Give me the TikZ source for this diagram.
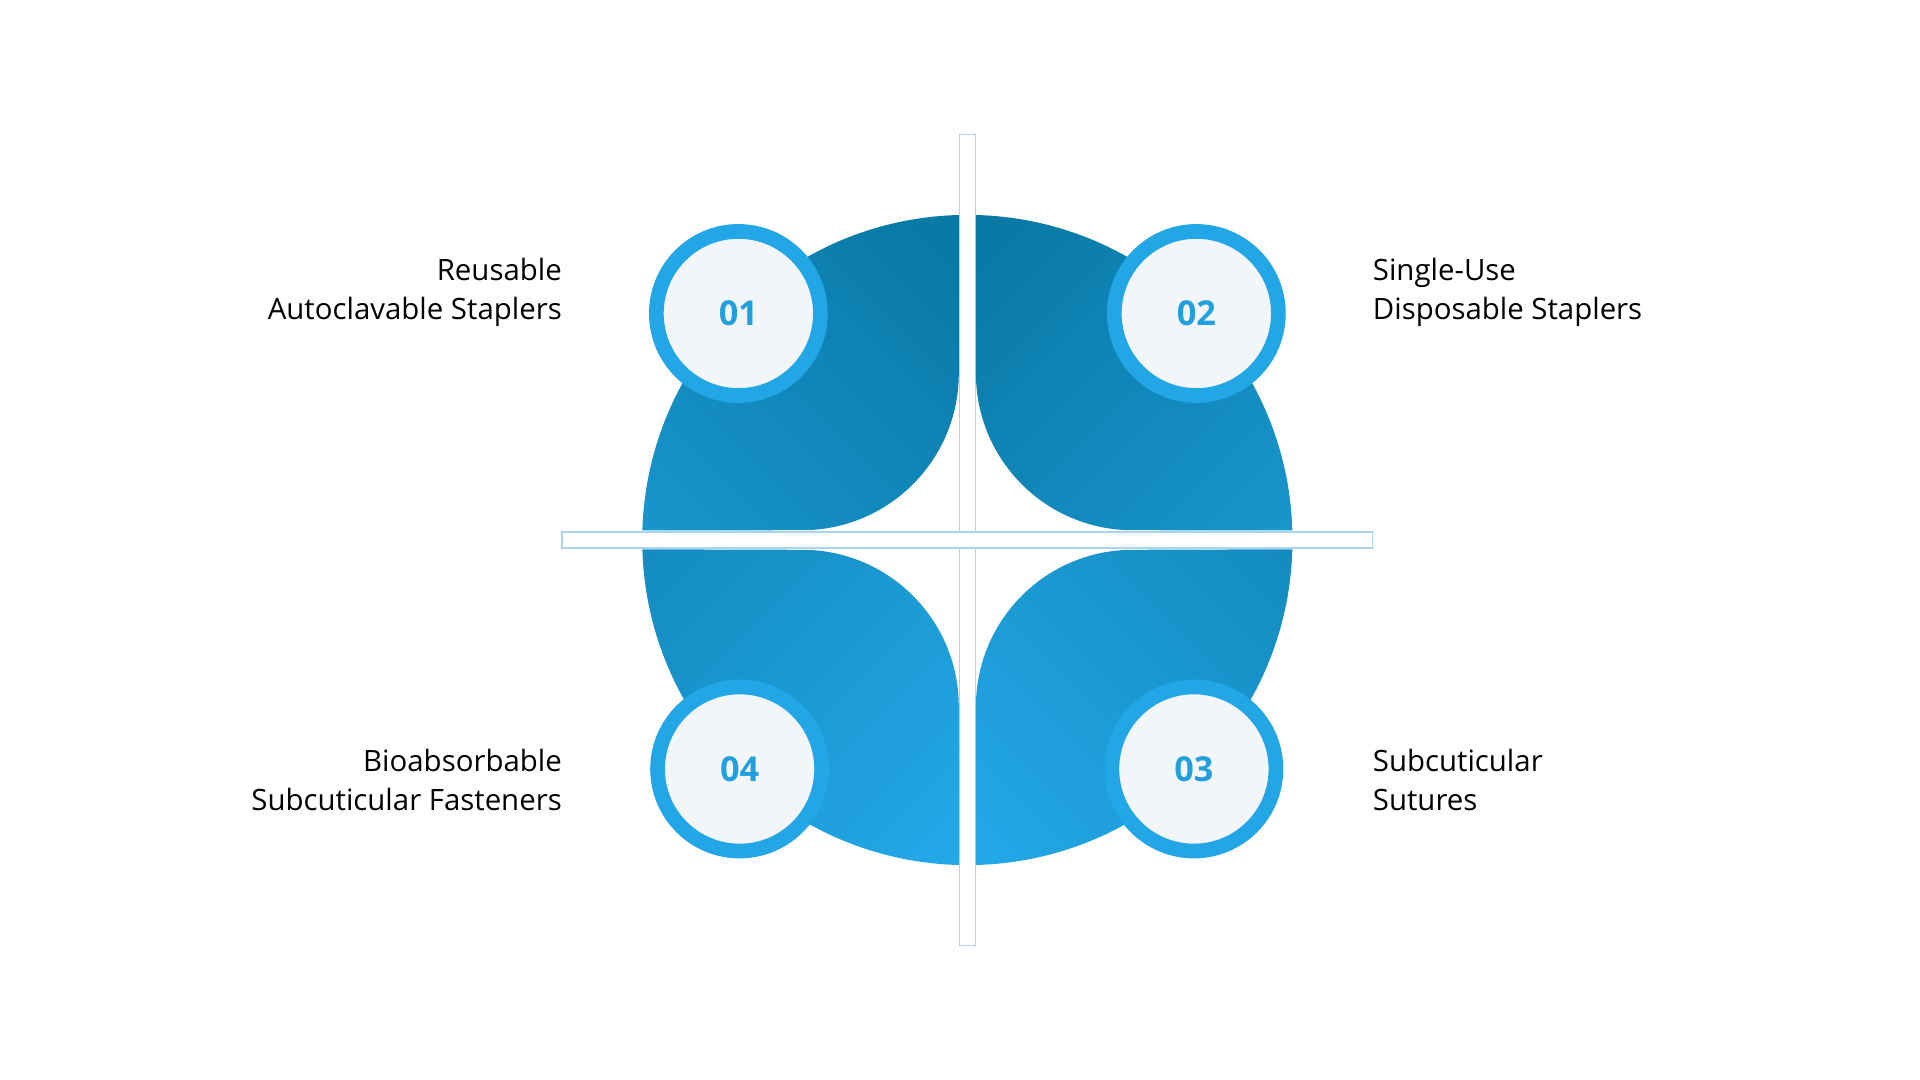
\documentclass[tikz,border=0pt]{standalone}
\usepackage{fontspec}
\setmainfont{Open Sans}
\definecolor{dk}{HTML}{0878A4}
\definecolor{lt}{HTML}{24A8E8}
\definecolor{ring}{HTML}{22A6E6}
\definecolor{inn}{HTML}{F2F6F8}
\definecolor{num}{HTML}{229FDD}
\definecolor{bar}{HTML}{A9D5F0}
\begin{document}
\begin{tikzpicture}[x=1pt,y=-1pt,
  badge/.style={circle,draw=ring,line width=12pt,fill=inn,minimum size=134pt,inner sep=0pt,font=\fontsize{28}{30}\selectfont\bfseries,text=num},
  lbl/.style={font=\fontsize{24}{32}\selectfont,text=black,inner sep=0pt}]
\useasboundingbox (0,0) rectangle (1568,882);
\fill[white] (0,0) rectangle (1568,882);
\draw[bar,line width=1pt,fill=white] (783.5,110) rectangle (796.5,772);
\draw[bar,line width=1pt,fill=white] (459,434.5) rectangle (1121,447.5);
\begin{scope}
\clip (790,441) circle (265.5);
\shade[top color=dk,bottom color=lt,shading angle=-45]
  (783,0) -- (783,305) arc[start angle=0,end angle=90,radius=128] -- (0,434) -- (0,0) -- cycle;
\shade[top color=dk,bottom color=lt,shading angle=45]
  (797,0) -- (797,305) arc[start angle=180,end angle=90,radius=128] -- (1568,434) -- (1568,0) -- cycle;
\shade[top color=dk,bottom color=lt,shading angle=45]
  (783,882) -- (783,577) arc[start angle=0,end angle=-90,radius=128] -- (0,447) -- (0,882) -- cycle;
\shade[top color=dk,bottom color=lt,shading angle=-45]
  (797,882) -- (797,577) arc[start angle=180,end angle=270,radius=128] -- (1568,447) -- (1568,882) -- cycle;
\end{scope}
\node[badge] (b1) at (603,256) {01};
\node[badge] (b2) at (977,256) {02};
\node[badge] (b3) at (975,628) {03};
\node[badge] (b4) at (604,628) {04};
\node[lbl,anchor=east,align=right] (l1) at (459,239) {Reusable\\Autoclavable Staplers};
\node[lbl,anchor=west,align=left] (l2) at (1121,239) {Single-Use\\Disposable Staplers};
\node[lbl,anchor=west,align=left] (l3) at (1121,637) {Subcuticular\\Sutures};
\node[lbl,anchor=east,align=right] (l4) at (459,637) {Bioabsorbable\\Subcuticular Fasteners};
\end{tikzpicture}
\end{document}
